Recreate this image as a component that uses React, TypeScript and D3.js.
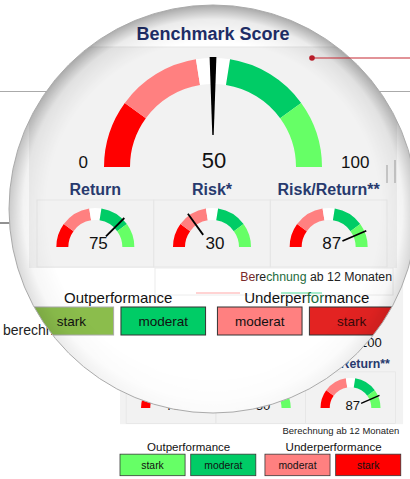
import * as d3 from "d3";

// gauge bands (score 0..100)
const BAND_STOPS = [0, 20, 45, 55, 80, 100];
const BAND_COLORS = ["#ff0000", "#ff8080", "#ffffff", "#00cc66", "#66ff66"];
const MAIN_TITLE = "Benchmark Score";
const MAIN_VALUE = 50;
const MAIN_TICKS = ["0", "100"];
const SUB_LABELS = ["Return", "Risk*", "Risk/Return**"];
const SUB_VALUES = [75, 30, 87];
const LEGEND_GROUPS = ["Outperformance", "Underperformance"];
const LEGEND_ITEMS = [
  ["stark", "moderat"],
  ["moderat", "stark"],
];
const LEGEND_COLORS = ["#66ff66", "#00cc66", "#ff8080", "#ff0000"];
const LENS_LEGEND_COLORS = ["#8bbd4c", "#00cc66", "#ff8080", "#e32322"];
const NOTE = "Berechnung ab 12 Monaten";

const FONT = "'Liberation Sans', Arial, sans-serif";
const NAVY = "#1f2f6b";
const ZOOM = 1.3;
const LENS = { cx: 213, cy: 209, r: 204 };

const angle = d3.scaleLinear().domain([0, 100]).range([-Math.PI / 2, Math.PI / 2]);
const bands = BAND_COLORS.map((color, i) => ({ from: BAND_STOPS[i], to: BAND_STOPS[i + 1], color }));
const deg = (v: number) => (angle(v) * 180) / Math.PI;

function Bands({ inner, outer }: { inner: number; outer: number }) {
  const arc = d3
    .arc<{ from: number; to: number }>()
    .innerRadius(inner)
    .outerRadius(outer)
    .startAngle((d) => angle(d.from))
    .endAngle((d) => angle(d.to));
  return (
    <>
      {bands.map((b, i) => (
        <path key={i} d={arc(b) || ""} fill={b.color} />
      ))}
    </>
  );
}

function Chart({ lens }: { lens: boolean }) {
  const cx = 213;
  const cy = 167;
  const subX = d3.scaleBand<string>().domain(SUB_LABELS).range([37, 387]);
  const groupX = d3.scaleBand<string>().domain(LEGEND_GROUPS).range([29, 394]).paddingInner(0.063);
  const itemX = d3.scaleBand<number>().domain([0, 1]).range([0, groupX.bandwidth()]).paddingInner(0.08);
  const colors = lens ? LENS_LEGEND_COLORS : LEGEND_COLORS;
  const subY = 247;
  const dark = "#1e6b3c";

  return (
    <g fontFamily={FONT}>
      <rect x={29} y={47} width={368} height={221} fill="#f2f2f2" />
      <line x1={29} x2={397} y1={47} y2={47} stroke="#e6e6e6" />
      <text x={cx} y={40} textAnchor="middle" fontSize={18} fontWeight="bold" fill={NAVY}>
        {MAIN_TITLE}
      </text>

      {/* main gauge */}
      <g transform={`translate(${cx},${cy})`}>
        <Bands inner={83} outer={109} />
        <path transform={`rotate(${deg(MAIN_VALUE)})`} d="M-3.4,-110L3.4,-110L0.7,-32L-0.7,-32Z" fill="#000" />
        <text x={1} y={1} textAnchor="middle" fontSize={22} fill="#111">
          {MAIN_VALUE}
        </text>
        <text x={-125} y={1} textAnchor="end" fontSize={17} fill="#111">
          {MAIN_TICKS[0]}
        </text>
        <text x={128} y={1} textAnchor="start" fontSize={17} fill="#111">
          {MAIN_TICKS[1]}
        </text>
      </g>

      {/* sub gauges */}
      {SUB_LABELS.map((label, i) => {
        const x0 = subX(label)!;
        const sx = x0 + subX.bandwidth() / 2;
        return (
          <g key={label}>
            <rect x={x0} y={200} width={subX.bandwidth()} height={67} fill="none" stroke="#e6e6e6" />
            <text x={sx} y={195} textAnchor="middle" fontSize={16} fontWeight="bold" fill="#283a6e">
              {label}
            </text>
            <g transform={`translate(${sx},${subY})`}>
              <Bands inner={27} outer={39} />
              <line
                transform={`rotate(${deg(SUB_VALUES[i])})`}
                x1={0}
                x2={0}
                y1={-15}
                y2={-41}
                stroke="#000"
                strokeWidth={1.8}
              />
              <text x={3} y={2} textAnchor="middle" fontSize={17} fill="#111">
                {SUB_VALUES[i]}
              </text>
            </g>
          </g>
        );
      })}

      {lens && (
        <g>
          <rect x={155} y={268} width={238} height={27} fill="none" stroke="#ececec" />
          <rect x={196} y={292} width={44} height={2} fill="#ff8080" opacity={0.35} />
          <rect x={281} y={292} width={41} height={2} fill="#00cc66" opacity={0.35} />
          <line x1={387} x2={387} y1={165} y2={183} stroke="#bbb" strokeWidth={1.5} />
          <line x1={395} x2={395} y1={160} y2={183} stroke="#bbb" strokeWidth={1.5} />
        </g>
      )}

      <text x={392} y={281} textAnchor="end" fontSize={12.3} fill="#222">
        {lens ? (
          <>
            <tspan fill="#7a2a2a">Be</tspan>
            <tspan>re</tspan>
            <tspan fill={dark}>chnung</tspan>
            <tspan>{NOTE.slice(10)}</tspan>
          </>
        ) : (
          NOTE
        )}
      </text>

      {/* legend */}
      {LEGEND_GROUPS.map((g, gi) => {
        const gx = groupX(g)!;
        return (
          <g key={g}>
            <text x={gx + groupX.bandwidth() / 2 + 1} y={303} textAnchor="middle" fontSize={15} fill="#111">
              {lens && gi === 1 ? (
                <>
                  <tspan>Underper</tspan>
                  <tspan fill={dark}>for</tspan>
                  <tspan>mance</tspan>
                </>
              ) : (
                g
              )}
            </text>
            {LEGEND_ITEMS[gi].map((item, ii) => {
              const bx = gx + itemX(ii)!;
              const c = colors[gi * 2 + ii];
              return (
                <g key={ii}>
                  <rect
                    x={bx}
                    y={307}
                    width={itemX.bandwidth()}
                    height={28}
                    fill={c}
                    stroke={lens && gi * 2 + ii === 0 ? "#aaa" : "#333"}
                    strokeWidth={1}
                  />
                  <text
                    x={bx + itemX.bandwidth() / 2}
                    y={326}
                    textAnchor="middle"
                    fontSize={13.5}
                    fill={lens && gi * 2 + ii === 3 ? "#3a0a0a" : "#111"}
                  >
                    {item}
                  </text>
                </g>
              );
            })}
          </g>
        );
      })}
    </g>
  );
}

export default function App() {
  const { cx, cy, r } = LENS;
  return (
    <svg width={410} height={479} style={{ position: "absolute", left: 0, top: 0 }}>
      <defs>
        <clipPath id="lensClip">
          <circle cx={cx} cy={cy} r={r} />
        </clipPath>
        <radialGradient id="rim" gradientUnits="userSpaceOnUse" cx={cx} cy={cy} r={r}>
          <stop offset="0.82" stopColor="#000" stopOpacity={0} />
          <stop offset="0.93" stopColor="#000" stopOpacity={0.08} />
          <stop offset="1" stopColor="#000" stopOpacity={0.34} />
        </radialGradient>
        <linearGradient id="fade" gradientUnits="userSpaceOnUse" x1={0} y1={cy - r} x2={0} y2={cy + r}>
          <stop offset="0" stopColor="#fff" stopOpacity={1} />
          <stop offset="0.5" stopColor="#fff" stopOpacity={0.6} />
          <stop offset="1" stopColor="#fff" stopOpacity={0.05} />
        </linearGradient>
        <mask id="rimMask">
          <rect x={0} y={0} width={410} height={479} fill="url(#fade)" />
        </mask>
      </defs>

      <rect width={410} height={479} fill="#fff" />
      <line x1={0} x2={410} y1={91.5} y2={91.5} stroke="#aaa" />
      <line x1={0} x2={20} y1={223} y2={223} stroke="#222" />
      <text x={3} y={335} fontFamily={FONT} fontSize={14} fill="#222">
        berechnet
      </text>

      {/* page chart at normal size */}
      <g transform={`translate(${127 / ZOOM},${283.4 / ZOOM}) scale(${1 / ZOOM})`}>
        <Chart lens={false} />
      </g>

      {/* magnifier */}
      <g clipPath="url(#lensClip)">
        <rect x={cx - r} y={cy - r} width={2 * r} height={2 * r} fill="#fff" />
        <Chart lens />
        <circle cx={cx} cy={cy} r={r} fill="url(#rim)" mask="url(#rimMask)" />
      </g>
      <circle cx={cx} cy={cy} r={r} fill="none" stroke="#aaa" strokeWidth={1} />

      {/* callout */}
      <line x1={312} x2={410} y1={58} y2={58} stroke="#c62833" strokeWidth={1.2} />
      <circle cx={312} cy={58} r={2.8} fill="#b81d2a" />
    </svg>
  );
}
